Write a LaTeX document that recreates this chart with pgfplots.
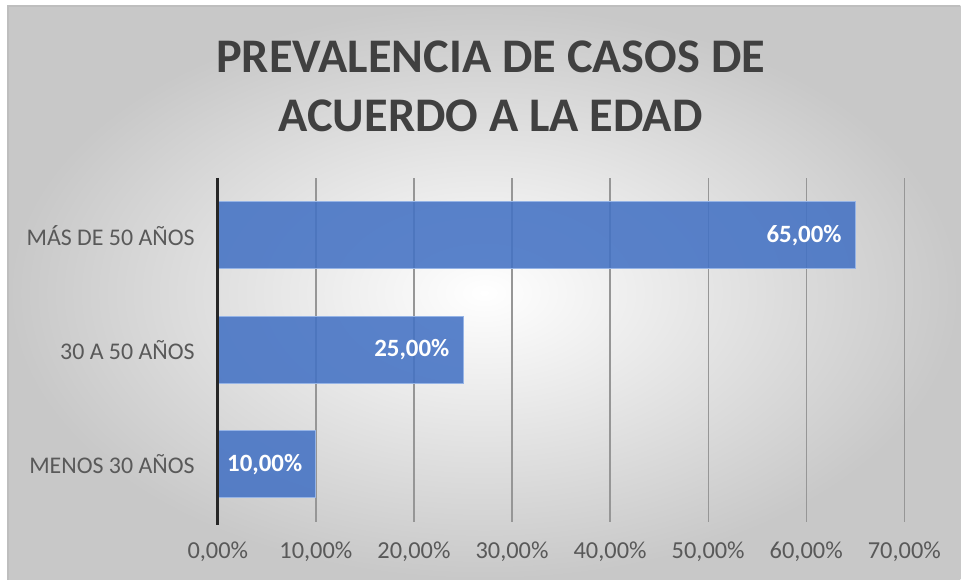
\documentclass[border=0pt]{standalone}
\usepackage{pgfplots}
\pgfplotsset{compat=1.18}
\usepackage{fontspec}
\setmainfont{Carlito}
\definecolor{barblue}{RGB}{68,114,196}
\definecolor{baredge}{RGB}{150,180,230}
\definecolor{titlegray}{RGB}{64,64,64}
\definecolor{labgray}{RGB}{89,89,89}
\definecolor{gridgray}{RGB}{150,150,150}
\definecolor{framegray}{RGB}{190,190,190}
\definecolor{axisdark}{RGB}{38,38,38}
\definecolor{bgouter}{RGB}{200,200,200}
\begin{document}
\begin{tikzpicture}
\fill[white] (-218bp,-58bp) rectangle (743bp,522bp);
\shade[inner color=white, outer color=bgouter] (-210bp,-58bp) rectangle (743bp,516bp);
\draw[line width=1.5bp,framegray] (-210bp,-58bp) -- (-210bp,516bp) -- (743bp,516bp);
\node[anchor=base, text=titlegray, font=\fontsize{48.5}{52}\selectfont\bfseries] at (273bp,449bp) {PREVALENCIA DE CASOS DE};
\node[anchor=base, text=titlegray, font=\fontsize{48.5}{52}\selectfont\bfseries] at (273bp,390bp) {ACUERDO A LA EDAD};
\begin{axis}[
  at={(0,0)}, anchor=south west,
  scale only axis, width=687bp, height=344bp,
  xbar, bar width=67bp,
  xmin=0, xmax=70, ymin=-0.5, ymax=2.5,
  ytick={0,1,2},
  yticklabels={MENOS 30 AÑOS, 30 A 50 AÑOS, MÁS DE 50 AÑOS},
  xtick={0,10,20,30,40,50,60,70},
  xticklabels={0{,}00\%,10{,}00\%,20{,}00\%,30{,}00\%,40{,}00\%,50{,}00\%,60{,}00\%,70{,}00\%},
  /pgf/number format/assume math mode=true,
  major tick length=0pt,
  xmajorgrids,
  major grid style={draw=gridgray, line width=1.3bp},
  axis x line*=bottom, axis y line*=left,
  x axis line style={draw=none},
  y axis line style={draw=none},
  xticklabel style={anchor=base, yshift=-37bp, inner sep=0pt, text=labgray, font=\fontsize{24.5}{28}\selectfont},
  yticklabel style={anchor=east, xshift=-23bp, inner sep=0pt, text=labgray, font=\fontsize{24}{28}\selectfont},
  point meta=x,
  nodes near coords={\pgfmathprintnumber[fixed,fixed zerofill,precision=2,use comma]{\pgfplotspointmeta}\%},
  every node near coord/.append style={anchor=east, xshift=-10bp, text=white, font=\fontsize{25}{29}\selectfont\bfseries},
  clip=false,
]
\addplot[fill=barblue, fill opacity=0.88, draw=baredge, line width=0.8bp, text opacity=1] coordinates {(10,0) (25,1) (65,2)};
\draw[axisdark, line width=3bp] (axis cs:0,2.5) -- ([yshift=-3bp]axis cs:0,-0.5);
\end{axis}
\end{tikzpicture}
\end{document}
